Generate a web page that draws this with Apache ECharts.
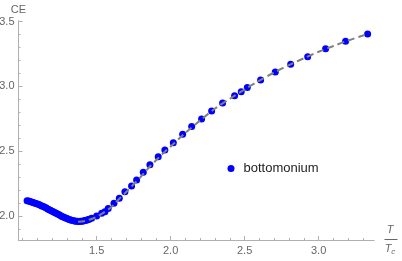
<!DOCTYPE html>
<html><head><meta charset="utf-8">
<script src="https://cdn.jsdelivr.net/npm/echarts@6/dist/echarts.min.js"></script>
<style>html,body{margin:0;padding:0;background:#fff}#c{width:402px;height:261px}</style>
</head><body><div id="c"></div>
<script>
// bottomonium data points (T/Tc, CE)
const ptT = [1.03,1.04,1.05,1.06,1.07,1.08,1.09,1.10,1.11,1.12,1.13,1.14,1.15,1.16,1.17,1.18,1.19,1.20,1.21,1.22,1.23,1.24,1.25,1.26,1.27,1.28,1.29,1.30,1.31,1.32,1.33,1.34,1.35,1.36,1.37,1.38,1.39,1.40,1.41,1.42,1.43,1.44,1.45,
  1.466,1.500,1.534,1.556,1.578,1.617,1.653,1.691,1.736,1.770,1.815,1.860,1.916,1.961,2.018,2.081,2.142,2.209,2.277,2.351,2.432,2.477,2.518,2.608,2.707,2.811,2.926,3.047,3.182,3.331];
const ptCE = [2.117,2.115,2.112,2.109,2.105,2.101,2.097,2.093,2.088,2.083,2.078,2.073,2.067,2.061,2.055,2.049,2.043,2.037,2.031,2.025,2.019,2.013,2.007,2.001,1.995,1.990,1.985,1.980,1.976,1.972,1.968,1.965,1.962,1.960,1.959,1.958,1.959,1.960,1.962,1.965,1.968,1.972,1.976,
  1.982,2.000,2.021,2.033,2.059,2.098,2.137,2.188,2.232,2.278,2.337,2.396,2.458,2.510,2.566,2.631,2.690,2.749,2.811,2.873,2.929,2.959,2.991,3.050,3.112,3.171,3.230,3.290,3.349,3.405];
// dashed fit curve
const fitT  = [1.374,1.42,1.46,1.50,1.55,1.60,1.65,1.70,1.75,1.80,1.85,1.90,1.95,2.00,2.10,2.20,2.30,2.40,2.50,2.60,2.70,2.80,2.90,3.00,3.10,3.20,3.30,3.34];
const fitCE = [1.955,1.962,1.975,1.993,2.028,2.070,2.130,2.185,2.245,2.305,2.370,2.428,2.485,2.537,2.642,2.738,2.830,2.905,2.977,3.045,3.108,3.165,3.217,3.268,3.312,3.355,3.393,3.410];
// axis ticks
const xMajor = [1.5,2.0,2.5,3.0];
const xMinor = [1.0,1.1,1.2,1.3,1.4,1.6,1.7,1.8,1.9,2.1,2.2,2.3,2.4,2.6,2.7,2.8,2.9,3.1,3.2,3.3];
const yMajor = [2.0,2.5,3.0,3.5];
const yMinor = [1.9,2.1,2.2,2.3,2.4,2.6,2.7,2.8,2.9,3.1,3.2,3.3,3.4];
const seriesName = 'bottomonium';

const axisCol = '#b0b0b0', labCol = '#666';
const xMin = 0.972, xMax = 3.374, yMin = 1.815, yMax = 3.505;

const chart = echarts.init(document.getElementById('c'), null, {renderer:'canvas'});
const mkX = (vals, len, labels) => ({
  type:'value', min:xMin, max:xMax, position:'bottom',
  axisLine:{show:true, lineStyle:{color:axisCol, width:1}},
  axisTick:{show:true, inside:true, length:len, customValues:vals, lineStyle:{color:axisCol}},
  axisLabel:{show:labels, customValues:vals, margin:5, color:labCol, fontSize:11, fontFamily:'Liberation Sans', formatter:v=>v.toFixed(1)},
  splitLine:{show:false}
});
const mkY = (vals, len, labels) => ({
  type:'value', min:yMin, max:yMax, position:'left',
  axisLine:{show:true, lineStyle:{color:axisCol, width:1}},
  axisTick:{show:true, inside:true, length:len, customValues:vals, lineStyle:{color:axisCol}},
  axisLabel:{show:labels, customValues:vals, margin:4, color:labCol, fontSize:11, fontFamily:'Liberation Sans', formatter:v=>v.toFixed(1)},
  splitLine:{show:false}
});
const xa0 = mkX(xMajor, 4, true), xa1 = mkX(xMinor, 2, false);
const ya0 = mkY(yMajor, 4, true), ya1 = mkY(yMinor, 2, false);
ya0.name = 'CE'; ya0.nameLocation = 'end'; ya0.nameGap = 6;
ya0.nameTextStyle = {color:labCol, fontSize:11, fontFamily:'Liberation Sans', align:'center'};

chart.setOption({
  animation:false,
  grid:{left:18.5, right:28, top:21, bottom:21, containLabel:false, outerBoundsMode:'none'},
  xAxis:[xa0, xa1],
  yAxis:[ya0, ya1],
  legend:{
    data:[{name:seriesName, icon:'circle'}],
    left:222.5, top:157, itemWidth:7, itemHeight:7,
    textStyle:{color:'#222', fontSize:13, fontFamily:'Liberation Sans', padding:[0,0,0,4]}
  },
  series:[
    {name:seriesName, type:'scatter', symbol:'circle', symbolSize:7,
     itemStyle:{color:'#0000ff', opacity:1}, z:2,
     data: ptT.map((t,i)=>[t, ptCE[i]])},
    {name:'fit', type:'line', symbol:'none', smooth:0.3, z:3,
     lineStyle:{color:'#808080', width:2, type:[7,4]},
     data: fitT.map((t,i)=>[t, fitCE[i]])}
  ],
  graphic:[
    {type:'text', x:390, y:230, style:{text:'T', font:'italic 11px "Liberation Sans"', fill:labCol, align:'center', verticalAlign:'middle'}},
    {type:'line', shape:{x1:384.5, y1:239.5, x2:397.5, y2:239.5}, style:{stroke:labCol, lineWidth:1}},
    {type:'text', x:390, y:249, style:{text:'{a|T}{b|c}', fill:labCol, align:'center', verticalAlign:'middle',
      rich:{a:{font:'italic 11px "Liberation Sans"', fill:labCol}, b:{font:'italic 8px "Liberation Sans"', fill:labCol, padding:[6,0,0,0]}}}}
  ]
});
</script></body></html>
